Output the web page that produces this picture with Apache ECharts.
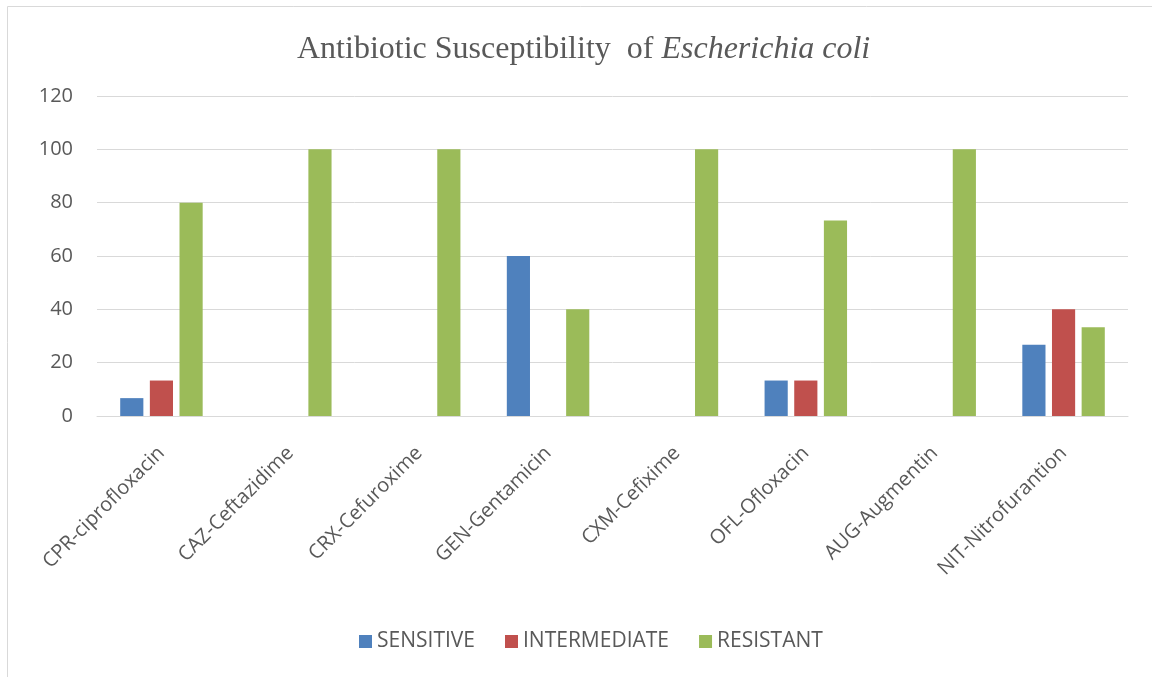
<!DOCTYPE html>
<html>
<head>
<meta charset="utf-8">
<script src="https://cdn.jsdelivr.net/npm/echarts@6/dist/echarts.min.js"></script>
<style>html,body{margin:0;padding:0;background:#fff}#c{width:1152px;height:677px}</style>
</head>
<body>
<div id="c"></div>
<script>
const categories = ['CPR-ciprofloxacin','CAZ-Ceftazidime','CRX-Cefuroxime','GEN-Gentamicin','CXM-Cefixime','OFL-Ofloxacin','AUG-Augmentin','NIT-Nitrofurantion'];
const sensitive = [6.7, 0, 0, 60, 0, 13.3, 0, 26.7];
const intermediate = [13.3, 0, 0, 0, 0, 13.3, 0, 40];
const resistant = [80, 100, 100, 40, 100, 73.3, 100, 33.3];
const seriesNames = ['SENSITIVE','INTERMEDIATE','RESISTANT'];
const colors = ['#4F81BD','#C0504D','#9BBB59'];

const chart = echarts.init(document.getElementById('c'));
const mk = (name, data, i) => ({
  name, type: 'bar', data,
  itemStyle: { color: colors[i] },
  barGap: '28%', barCategoryGap: '36%'
});
chart.setOption({
  animation: false,
  graphic: [{
    type: 'rect', shape: { x: 7.5, y: 6.5, width: 1170, height: 700 },
    style: { fill: 'none', stroke: '#d9d9d9', lineWidth: 1 }, z: -1
  }],
  title: {
    text: '{n|Antibiotic Susceptibility  of }{i|Escherichia coli}',
    left: 292, top: 29,
    textStyle: {
      fontWeight: 'normal',
      rich: {
        n: { fontFamily: 'Liberation Serif', fontSize: 32, fontWeight: 'normal', color: '#595959' },
        i: { fontFamily: 'Liberation Serif', fontSize: 32, fontWeight: 'normal', fontStyle: 'italic', color: '#595959' }
      }
    }
  },
  grid: { left: 97, right: 24, top: 96, bottom: 261, containLabel: false },
  legend: {
    bottom: 20, left: 354,
    itemWidth: 13, itemHeight: 13, itemGap: 30,
    icon: 'rect',
    textStyle: { fontFamily: 'Open Sans', fontSize: 21, color: '#595959' },
    data: seriesNames
  },
  xAxis: {
    type: 'category', data: categories,
    axisLine: { lineStyle: { color: '#d9d9d9' } },
    axisTick: { show: false },
    axisLabel: { rotate: 45, interval: 0, margin: 34, fontFamily: 'Open Sans', fontSize: 20, color: '#595959' }
  },
  yAxis: {
    type: 'value', min: 0, max: 120, interval: 20,
    axisLine: { show: false }, axisTick: { show: false },
    splitLine: { lineStyle: { color: '#d9d9d9' } },
    axisLabel: { margin: 24, fontFamily: 'Open Sans', fontSize: 20, color: '#595959' }
  },
  series: [mk(seriesNames[0], sensitive, 0), mk(seriesNames[1], intermediate, 1), mk(seriesNames[2], resistant, 2)]
});
</script>
</body>
</html>
